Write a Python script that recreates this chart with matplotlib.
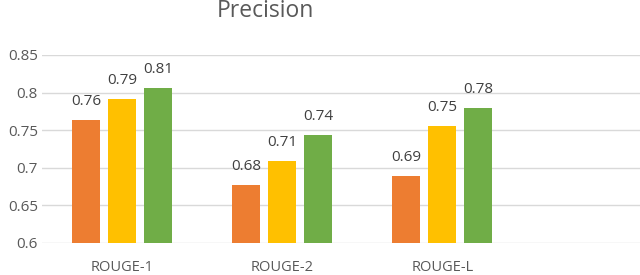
import matplotlib
matplotlib.use("Agg")
import matplotlib.pyplot as plt
import numpy as np

categories = ["ROUGE-1", "ROUGE-2", "ROUGE-L"]
series_a = [0.763, 0.677, 0.689]
series_b = [0.791, 0.709, 0.755]
series_c = [0.806, 0.744, 0.779]
labels_a = ["0.76", "0.68", "0.69"]
labels_b = ["0.79", "0.71", "0.75"]
labels_c = ["0.81", "0.74", "0.78"]
yticks = [0.6, 0.65, 0.7, 0.75, 0.8, 0.85]
ytick_labels = ["0.6", "0.65", "0.7", "0.75", "0.8", "0.85"]

colors = ["#ED7D31", "#FFC000", "#70AD47"]
txt = "#595959"
plt.rcParams['font.family'] = ['Open Sans', 'DejaVu Sans']

fig = plt.figure(figsize=(6.4, 2.75), dpi=100)
ax = fig.add_axes([42/640, 1-243/275, 1-42/640, (243-55)/275])

x = np.arange(len(categories))
w = 0.175
step = 0.225
for i, (vals, labs) in enumerate([(series_a, labels_a), (series_b, labels_b), (series_c, labels_c)]):
    pos = x + (i - 1) * step
    ax.bar(pos, [v - 0.6 for v in vals], width=w, bottom=0.6, color=colors[i], zorder=3)
    for p, v, l in zip(pos, vals, labs):
        ax.annotate(l, (p, v), xytext=(0, 8), textcoords="offset points",
                    ha="center", va="bottom", fontsize=11, color="#404040")

ax.set_ylim(0.6, 0.85)
ax.set_xlim(-0.5, (640 - 122.5) / 160)
ax.set_yticks(yticks)
ax.set_yticklabels(ytick_labels, fontsize=11, color=txt)
ax.set_xticks(x)
ax.set_xticklabels(categories, fontsize=10.5, color=txt)
ax.tick_params(axis='x', length=0, pad=12)
ax.tick_params(axis='y', length=0, pad=3)
ax.yaxis.grid(True, color="#D9D9D9", linewidth=1, zorder=0)
for s in ax.spines.values():
    s.set_visible(False)

fig.text(265/640, 1-11/275, "Precision", ha="center", va="center", fontsize=16.5, color=txt)
fig.savefig("out.png", dpi=100)
